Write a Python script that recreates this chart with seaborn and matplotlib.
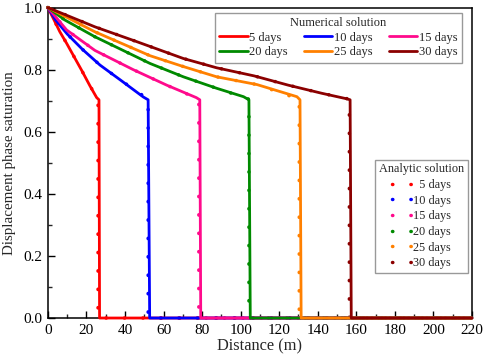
import numpy as np
import pandas as pd
import seaborn as sns
import matplotlib.pyplot as plt
from matplotlib.ticker import MultipleLocator

# Times of the displacement fronts
days = [5, 10, 15, 20, 25, 30]
colors = ['#ff0000', '#0000ff', '#ff0a8c', '#008a00', '#ff8000', '#8b0000']

# Numerical solution
num_x = {
    5: [0, 2.8, 6.2, 9.7, 13.1, 17.5, 21.8, 25.3, 26.5, 26.8, 220],
    10: [0, 4.0, 10.0, 18.0, 27.0, 38.0, 49.5, 52.0, 52.8, 220],
    15: [0, 9.7, 24.4, 44.3, 61.7, 77.0, 78.8, 79.3, 220],
    20: [0, 8.8, 24.4, 53.0, 70.3, 87.6, 101.5, 104.3, 105.0, 220],
    25: [0, 24.4, 53.0, 70.3, 87.6, 108.5, 129.2, 130.8, 131.4, 220],
    30: [0, 24.4, 44.0, 70.3, 87.6, 107.0, 124.8, 142.1, 155.2, 156.8, 157.4, 220],
}
num_s = {
    5: [1.0, 0.965, 0.922, 0.885, 0.847, 0.798, 0.748, 0.710, 0.703, 0.0, 0.0],
    10: [1.0, 0.960, 0.915, 0.865, 0.815, 0.765, 0.712, 0.703, 0.0, 0.0],
    15: [1.0, 0.928, 0.862, 0.800, 0.750, 0.710, 0.703, 0.0, 0.0],
    20: [1.0, 0.960, 0.906, 0.820, 0.777, 0.740, 0.713, 0.703, 0.0, 0.0],
    25: [1.0, 0.922, 0.845, 0.810, 0.777, 0.752, 0.713, 0.703, 0.0, 0.0],
    30: [1.0, 0.938, 0.895, 0.836, 0.806, 0.780, 0.750, 0.724, 0.706, 0.703, 0.0, 0.0],
}

# Analytic solution
ana_x = {
    5: [0, 2.8, 6.2, 9.7, 13.1, 17.5, 21.8, 26.0, 26.0, 220],
    10: [0, 4.0, 10.0, 18.0, 27.0, 38.0, 52.0, 52.0, 220],
    15: [0, 9.7, 24.4, 44.3, 61.7, 78.3, 78.3, 220],
    20: [0, 8.8, 24.4, 53.0, 70.3, 87.6, 104.3, 104.3, 220],
    25: [0, 24.4, 53.0, 70.3, 87.6, 108.5, 130.4, 130.4, 220],
    30: [0, 24.4, 44.0, 70.3, 87.6, 107.0, 124.8, 142.1, 156.4, 156.4, 220],
}
ana_s = {
    5: [1.0, 0.965, 0.922, 0.885, 0.847, 0.798, 0.748, 0.705, 0.0, 0.0],
    10: [1.0, 0.960, 0.915, 0.865, 0.815, 0.765, 0.705, 0.0, 0.0],
    15: [1.0, 0.928, 0.862, 0.800, 0.750, 0.705, 0.0, 0.0],
    20: [1.0, 0.960, 0.906, 0.820, 0.777, 0.740, 0.705, 0.0, 0.0],
    25: [1.0, 0.922, 0.845, 0.810, 0.777, 0.752, 0.705, 0.0, 0.0],
    30: [1.0, 0.938, 0.895, 0.836, 0.806, 0.780, 0.750, 0.724, 0.705, 0.0, 0.0],
}

sns.set_style('ticks')
plt.rcParams['font.family'] = ['Liberation Serif', 'DejaVu Serif']
plt.rcParams['xtick.direction'] = 'in'
plt.rcParams['ytick.direction'] = 'in'

fig, ax = plt.subplots(figsize=(4.84, 3.62), dpi=100)
fig.subplots_adjust(left=0.099, right=0.975, bottom=0.1215, top=0.979)

num_handles = []
ana_handles = []
for d, c in zip(days, colors):
    df_a = pd.DataFrame({'x': ana_x[d], 's': ana_s[d]})
    sns.lineplot(data=df_a, x='x', y='s', ax=ax, sort=False, estimator=None,
                 color=c, lw=2.5, linestyle=(0, (0.1, 5.2)),
                 dash_capstyle='round', zorder=3, clip_on=False)
    ana_handles.append(ax.lines[-1])
for d, c in zip(days, colors):
    df_n = pd.DataFrame({'x': num_x[d], 's': num_s[d]})
    sns.lineplot(data=df_n, x='x', y='s', ax=ax, sort=False, estimator=None,
                 color=c, lw=2.0, zorder=4, clip_on=False)
    num_handles.append(ax.lines[-1])

ax.set_xlim(0, 220)
ax.set_ylim(0, 1.0)
ax.xaxis.set_major_locator(MultipleLocator(20))
ax.xaxis.set_minor_locator(MultipleLocator(10))
ax.yaxis.set_major_locator(MultipleLocator(0.2))
ax.yaxis.set_minor_locator(MultipleLocator(0.1))
ax.tick_params(which='major', length=5, width=1, labelsize=11, colors='black',
               pad=4)
ax.tick_params(which='minor', length=3, width=1)
for sp in ax.spines.values():
    sp.set_linewidth(1.1)
    sp.set_color('black')

ax.set_xlabel('Distance (m)', fontsize=11.8, labelpad=1)
ax.set_ylabel('Displacement phase saturation', fontsize=10.8, labelpad=5)

# row-wise ordering for the 3-column legend
order = [0, 3, 1, 4, 2, 5]
leg1 = ax.legend([num_handles[i] for i in order],
                 [f'{days[i]} days' for i in order], ncol=3,
                 title='Numerical solution', loc='upper right',
                 bbox_to_anchor=(0.977, 0.983), borderaxespad=0,
                 fontsize=9, title_fontsize=9, frameon=True,
                 fancybox=False, edgecolor='#808080', handlelength=2.25,
                 handletextpad=0.15, columnspacing=1.3, borderpad=0.35,
                 labelspacing=0.2)
leg1.get_frame().set_linewidth(1.0)
leg1.set_zorder(5)
ax.add_artist(leg1)

ana_labels = [('  ' if d < 10 else '') + f'{d} days' for d in days]
leg2 = ax.legend(ana_handles, ana_labels, ncol=1, title='Analytic solution',
                 loc='lower right', bbox_to_anchor=(0.99, 0.145),
                 borderaxespad=0, fontsize=8.8, title_fontsize=8.8,
                 frameon=True, fancybox=False, edgecolor='#808080',
                 handlelength=1.5, handletextpad=0.15, borderpad=0.3,
                 labelspacing=0.3)
leg2.get_frame().set_linewidth(1.0)
leg2.set_zorder(5)

fig.savefig('out.png', dpi=100)
